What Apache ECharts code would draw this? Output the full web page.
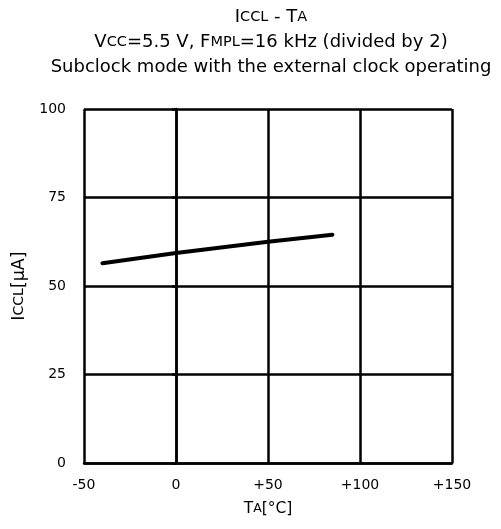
<!DOCTYPE html>
<html>
<head>
<meta charset="utf-8">
<script src="https://cdn.jsdelivr.net/npm/echarts@6/dist/echarts.min.js"></script>
<style>html,body{margin:0;padding:0;background:#fff;}#c{width:501px;height:529px;}</style>
</head>
<body>
<div id="c"></div>
<script>
var temperatures = [-40, 0, 50, 85];
var currentUA = [56.4, 59.3, 62.5, 64.5];
var xTicks = [-50, 0, 50, 100, 150];
var yTicks = [0, 25, 50, 75, 100];

var FONT = '"DejaVu Sans", "Liberation Sans", Arial, sans-serif';
var chart = echarts.init(document.getElementById('c'), null, {renderer: 'canvas'});
var rich = {
  b: {fontSize: 18, fontFamily: FONT, fontWeight: 'normal', color: '#000'},
  s: {fontSize: 14.5, fontFamily: FONT, fontWeight: 'normal', color: '#000'}
};
var richX = {
  b: {fontSize: 15.5, fontFamily: FONT, fontWeight: 'normal', color: '#000'},
  s: {fontSize: 12.5, fontFamily: FONT, fontWeight: 'normal', color: '#000'}
};
var richY = {
  b: {fontSize: 17.5, fontFamily: FONT, fontWeight: 'normal', color: '#000'},
  s: {fontSize: 14, fontFamily: FONT, fontWeight: 'normal', color: '#000'}
};
chart.setOption({
  animation: false,
  backgroundColor: '#fff',
  title: {
    left: 266, top: 0, textAlign: 'center',
    text: '{b|I}{s|CCL}{b| - T}{s|A}\n{b|V}{s|CC}{b|=5.5 V, F}{s|MPL}{b|=16 kHz (divided by 2)}\n{b|Subclock mode with the external clock operating}',
    textStyle: {rich: rich, lineHeight: 25, fontFamily: FONT, fontWeight: 'normal'}
  },
  grid: {left: 84, right: 49, top: 109, bottom: 66, containLabel: false},
  xAxis: {
    type: 'value', min: xTicks[0], max: xTicks[xTicks.length - 1], interval: 50,
    axisLine: {onZero: false, lineStyle: {color: '#000', width: 2.5}},
    axisTick: {show: false},
    splitLine: {show: true, lineStyle: {color: '#000', width: 2.5}},
    axisLabel: {color: '#000', fontSize: 14, fontFamily: FONT, margin: 15,
      formatter: function (v) { return v > 0 ? '+' + v : String(v); }},
    name: '{b|T}{s|A}{b|[°C]}', nameLocation: 'middle', nameGap: 38,
    nameTextStyle: {rich: richX}
  },
  yAxis: {
    type: 'value', min: yTicks[0], max: yTicks[yTicks.length - 1], interval: 25,
    axisLine: {show: true, lineStyle: {color: '#000', width: 2.5}},
    axisTick: {show: true, length: 4, lineStyle: {color: '#000', width: 2.5}},
    splitLine: {show: true, lineStyle: {color: '#000', width: 2.5}},
    axisLabel: {color: '#000', fontSize: 14, fontFamily: FONT, margin: 18},
    name: '{b|I}{s|CCL}{b|[μA]}', nameLocation: 'middle', nameGap: 56, nameRotate: 90,
    nameTextStyle: {rich: richY}
  },
  series: [{
    type: 'line', showSymbol: false, symbol: 'none', smooth: false,
    data: temperatures.map(function (t, i) { return [t, currentUA[i]]; }),
    lineStyle: {color: '#000', width: 4, cap: 'round'}
  }]
});
</script>
</body>
</html>
